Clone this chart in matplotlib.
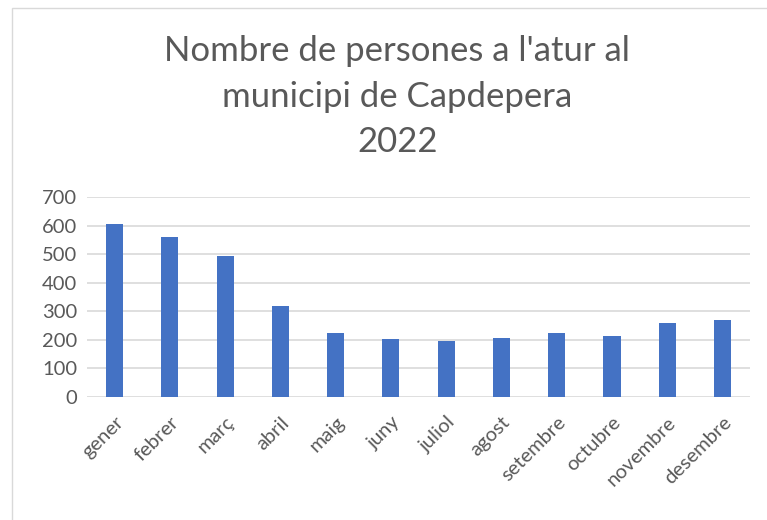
import matplotlib.pyplot as plt
from matplotlib.patches import Rectangle

months = ["gener", "febrer", "març", "abril", "maig", "juny", "juliol",
          "agost", "setembre", "octubre", "novembre", "desembre"]
aturats = [606, 559, 494, 320, 225, 202, 197, 205, 225, 212, 259, 268]
yticks = [0, 100, 200, 300, 400, 500, 600, 700]

plt.rcParams['font.family'] = ['Lato', 'DejaVu Sans']
grey = "#595959"

fig = plt.figure(figsize=(7.67, 5.2), dpi=100)
ax = fig.add_axes([0.1134, 0.2365, 0.8646, 0.3845])

# chart border like the spreadsheet frame
fig.patches.append(Rectangle((12 / 767, -0.1), 1.0, 1 - 8 / 520 + 0.1,
                             transform=fig.transFigure, fill=False,
                             edgecolor="#d9d9d9", lw=1))

x = range(len(months))
ax.bar(x, aturats, width=0.31, color="#4472C4", zorder=3)

ax.set_xlim(-0.5, len(months) - 0.5)
ax.set_ylim(0, 700)
ax.set_yticks(yticks)
ax.set_xticks(list(x))
ax.set_xticklabels(months, rotation=45, ha="right", rotation_mode="anchor")
ax.grid(axis="y", color="#d9d9d9", lw=1.2, zorder=0)
for s in ax.spines.values():
    s.set_visible(False)
ax.tick_params(length=0, labelsize=14.5, colors=grey, pad=7)
ax.tick_params(axis="x", pad=12)

fig.text(0.518, 0.932, "Nombre de persones a l'atur al\nmunicipi de Capdepera\n2022",
         ha="center", va="top", fontsize=25, color=grey, linespacing=1.52)

fig.savefig("out.png")
